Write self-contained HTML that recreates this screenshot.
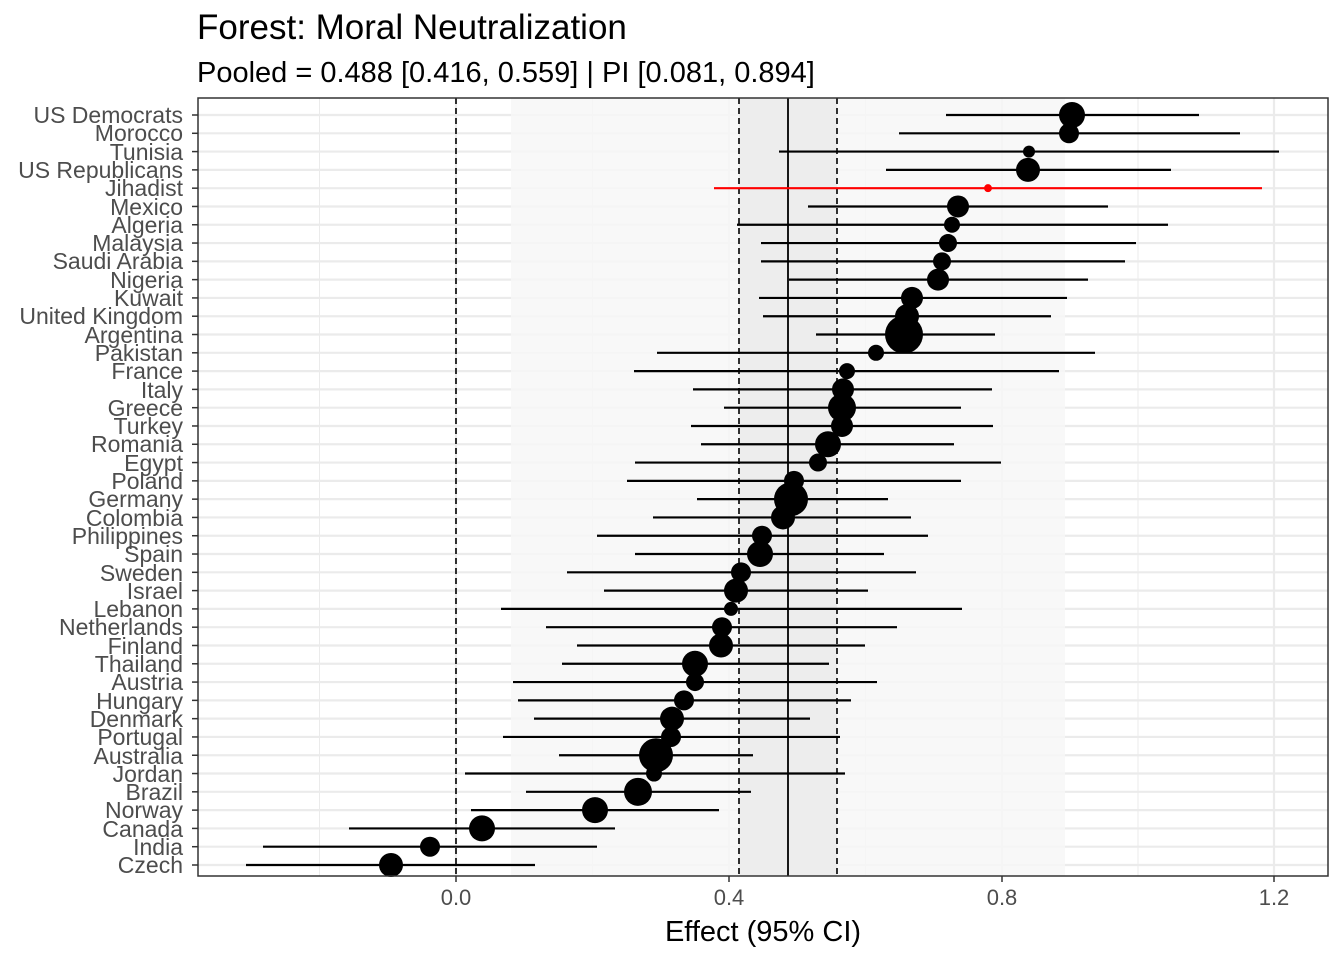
<!DOCTYPE html>
<html><head><meta charset="utf-8"><style>body{margin:0;background:#fff}svg{display:block}</style></head><body>
<svg id="s" width="1344" height="960" xmlns="http://www.w3.org/2000/svg" font-family="Liberation Sans, sans-serif">
<rect width="1344" height="960" fill="#fff"/>
<g id="grid"></g>
<rect x="511" y="98" width="554" height="778" fill="#f7f7f7" opacity="0.85"/>
<rect x="739" y="98" width="98" height="778" fill="#ebebeb" opacity="0.85"/>
<line x1="456" y1="98" x2="456" y2="876" stroke="#000" stroke-width="1.6" stroke-dasharray="6,4"/>
<line x1="739" y1="98" x2="739" y2="876" stroke="#000" stroke-width="1.6" stroke-dasharray="6,4"/>
<line x1="837" y1="98" x2="837" y2="876" stroke="#000" stroke-width="1.6" stroke-dasharray="6,4"/>
<line x1="788" y1="98" x2="788" y2="876" stroke="#000" stroke-width="1.8"/>
<g id="data"></g>
<rect x="198" y="98" width="1130" height="778" fill="none" stroke="#333" stroke-width="1.5"/>
<g id="yt" stroke="#333" stroke-width="1.5"></g>
<g font-size="23" fill="#4d4d4d" text-anchor="end" id="lab">
<text x="183" y="123">US Democrats</text><text x="183" y="141">Morocco</text><text x="183" y="160">Tunisia</text><text x="183" y="178">US Republicans</text><text x="183" y="196">Jihadist</text><text x="183" y="215">Mexico</text><text x="183" y="233">Algeria</text><text x="183" y="251">Malaysia</text><text x="183" y="269">Saudi Arabia</text><text x="183" y="288">Nigeria</text><text x="183" y="306">Kuwait</text><text x="183" y="324">United Kingdom</text><text x="183" y="343">Argentina</text><text x="183" y="361">Pakistan</text><text x="183" y="379">France</text><text x="183" y="398">Italy</text><text x="183" y="416">Greece</text><text x="183" y="434">Turkey</text><text x="183" y="452">Romania</text><text x="183" y="471">Egypt</text><text x="183" y="489">Poland</text><text x="183" y="507">Germany</text><text x="183" y="526">Colombia</text><text x="183" y="544">Philippines</text><text x="183" y="562">Spain</text><text x="183" y="581">Sweden</text><text x="183" y="599">Israel</text><text x="183" y="617">Lebanon</text><text x="183" y="635">Netherlands</text><text x="183" y="654">Finland</text><text x="183" y="672">Thailand</text><text x="183" y="690">Austria</text><text x="183" y="709">Hungary</text><text x="183" y="727">Denmark</text><text x="183" y="745">Portugal</text><text x="183" y="764">Australia</text><text x="183" y="782">Jordan</text><text x="183" y="800">Brazil</text><text x="183" y="818">Norway</text><text x="183" y="837">Canada</text><text x="183" y="855">India</text><text x="183" y="873">Czech</text>
</g>
<g font-size="22" fill="#4d4d4d" text-anchor="middle">
<text x="456" y="905">0.0</text><text x="729" y="905">0.4</text><text x="1002" y="905">0.8</text><text x="1274" y="905">1.2</text>
</g>
<g stroke="#333" stroke-width="1.5"><line x1="456" y1="876" x2="456" y2="882"/><line x1="729" y1="876" x2="729" y2="882"/><line x1="1002" y1="876" x2="1002" y2="882"/><line x1="1274" y1="876" x2="1274" y2="882"/></g>
<text x="763" y="941" font-size="29" text-anchor="middle" fill="#000">Effect (95% CI)</text>
<text x="197" y="39" font-size="35" fill="#000">Forest: Moral Neutralization</text>
<text x="197" y="82" font-size="29" fill="#000">Pooled = 0.488 [0.416, 0.559] | PI [0.081, 0.894]</text>
</svg>
<script>
var d=[[1072,946,1199,13],[1069,899,1240,10],[1029,779,1279,6],[1028,886,1171,12],[988,714,1262,4],[958,808,1108,11],[952,737,1168,8],[948,761,1136,9],[942,761,1125,9],[938,789,1088,11],[912,759,1067,11],[907,763,1051,12],[904,816,995,19],[876,657,1095,8],[847,634,1059,8],[843,693,992,11],[842,724,961,14],[842,691,993,11],[828,701,954,13],[818,635,1001,9],[794,627,961,10],[791,697,888,17],[783,653,911,12],[762,597,928,10],[760,635,884,13],[741,567,916,10],[736,604,868,12],[731,501,962,7],[722,546,897,10],[721,577,865,12],[695,562,829,13],[695,513,877,9],[684,518,851,10],[672,534,810,12],[671,503,840,10],[656,559,753,17],[654,465,845,8],[638,526,751,14],[595,471,719,13],[482,349,615,13],[430,263,597,10],[391,246,535,12]];
var g='',dd='',yt='';
[319.5,592.5,865.5,1138].forEach(function(x){g+='<line x1="'+x+'" y1="98" x2="'+x+'" y2="876" stroke="#ebebeb" stroke-width="1"/>';});
[456,729,1002,1274].forEach(function(x){g+='<line x1="'+x+'" y1="98" x2="'+x+'" y2="876" stroke="#ebebeb" stroke-width="2.2"/>';});
d.forEach(function(r,i){var y=115+i*750/41;g+='<line x1="198" y1="'+y+'" x2="1328" y2="'+y+'" stroke="#ebebeb" stroke-width="2.2"/>';
yt+='<line x1="192" y1="'+y+'" x2="198" y2="'+y+'"/>';
var c=i==4?'#ff0000':'#000';dd+='<line x1="'+r[1]+'" y1="'+y+'" x2="'+r[2]+'" y2="'+y+'" stroke="'+c+'" stroke-width="2.2"/><circle cx="'+r[0]+'" cy="'+y+'" r="'+r[3]+'" fill="'+c+'"/>';});
document.getElementById('grid').innerHTML=g;document.getElementById('data').innerHTML=dd;document.getElementById('yt').innerHTML=yt;
</script>
</body></html>
